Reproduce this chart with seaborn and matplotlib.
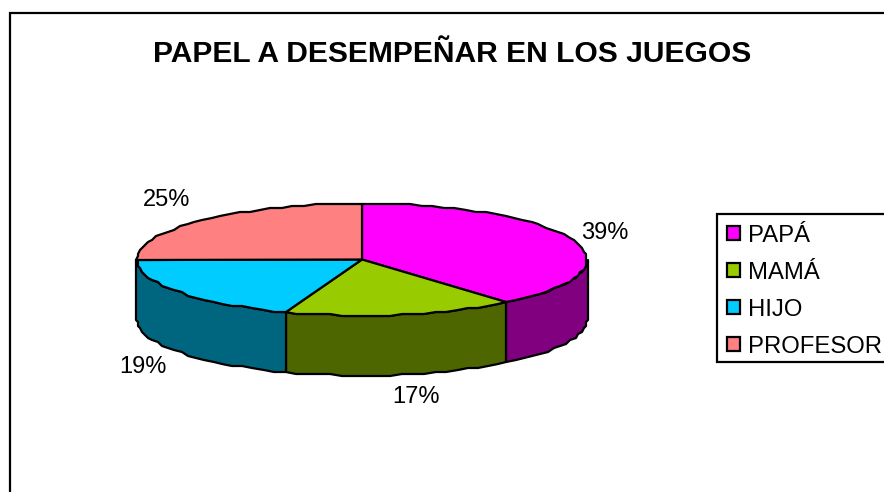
import numpy as np
import pandas as pd
import seaborn as sns
import matplotlib.pyplot as plt
from matplotlib.patches import Rectangle, Patch

roles = ["PAPÁ", "MAMÁ", "HIJO", "PROFESOR"]
counts = [14, 6, 7, 9]
top_colors = ["#FF00FF", "#99CC00", "#00CCFF", "#FF8080"]
side_colors = ["#800080", "#4D6600", "#006680", "#803F3F"]
title = "PAPEL A DESEMPEÑAR EN LOS JUEGOS"

sns.set_theme(style="white")
plt.rcParams['font.family'] = ['Liberation Sans', 'DejaVu Sans']

df = pd.DataFrame({"role": roles, "count": counts})
df["share"] = df["count"] / df["count"].sum()
df["end"] = df["share"].cumsum() * 360
df["start"] = df["end"] - df["share"] * 360

# everything below is in pixels of the picture
fig = plt.figure(figsize=(8.84, 4.92), dpi=100)
ax = fig.add_axes([0, 0, 1, 1])
ax.set_xlim(0, 884)
ax.set_ylim(492, 0)
ax.axis("off")

cx, cy, rx, ry, depth = 362, 259.5, 225, 56, 60
edge = 1.6


def rim(a0, a1):
    # rounding gives the slightly scalloped outline of the original
    n = max(int(abs(a1 - a0) / 3), 2) + 1
    a = np.radians(np.linspace(a0, a1, n))
    x = cx + rx * np.sin(a)
    y = cy - ry * np.cos(a)
    return np.round(x / 2) * 2, np.round(y / 2) * 2


ax.add_patch(Rectangle((9.5, 12.5), 900, 500, fc="white", ec="black", lw=edge))

# sides, only the front half of the disc shows
for i, row in df.iterrows():
    a0, a1 = max(row["start"], 90), min(row["end"], 270)
    if a1 <= a0:
        continue
    x, y = rim(a0, a1)
    xs = np.r_[x, x[::-1]]
    ys = np.r_[y, y[::-1] + depth]
    ax.fill(xs, ys, fc=side_colors[i], ec="black", lw=edge, joinstyle="round")

# top of the disc
for i, row in df.iterrows():
    x, y = rim(row["start"], row["end"])
    ax.fill(np.r_[cx, x], np.r_[cy, y], fc=top_colors[i], ec="black", lw=edge, joinstyle="round")

label_pos = [(605, 233), (416, 397), (143, 367), (167, 200)]
for share, (lx, ly) in zip(df["share"], label_pos):
    ax.text(lx, ly, f"{share:.0%}", ha="center", va="center", fontsize=17, color="black")

ax.text(452.5, 53.5, title, ha="center", va="center", fontsize=21.6, fontweight="bold", color="black")

# legend box runs past the right edge of the picture
ax.add_patch(Rectangle((717, 214), 200, 148, fc="white", ec="black", lw=edge))
handles = [Patch(fc=c, ec="black", lw=edge) for c in top_colors]
leg = ax.legend(handles, roles, loc="upper left", bbox_to_anchor=(727, 224.5),
                bbox_transform=ax.transData, fontsize=17.2, frameon=False,
                borderpad=0, borderaxespad=0,
                handlelength=0.54, handleheight=0.54, handletextpad=0.34, labelspacing=0.63,
                labelcolor="black")

fig.savefig("out.png", dpi=100)
